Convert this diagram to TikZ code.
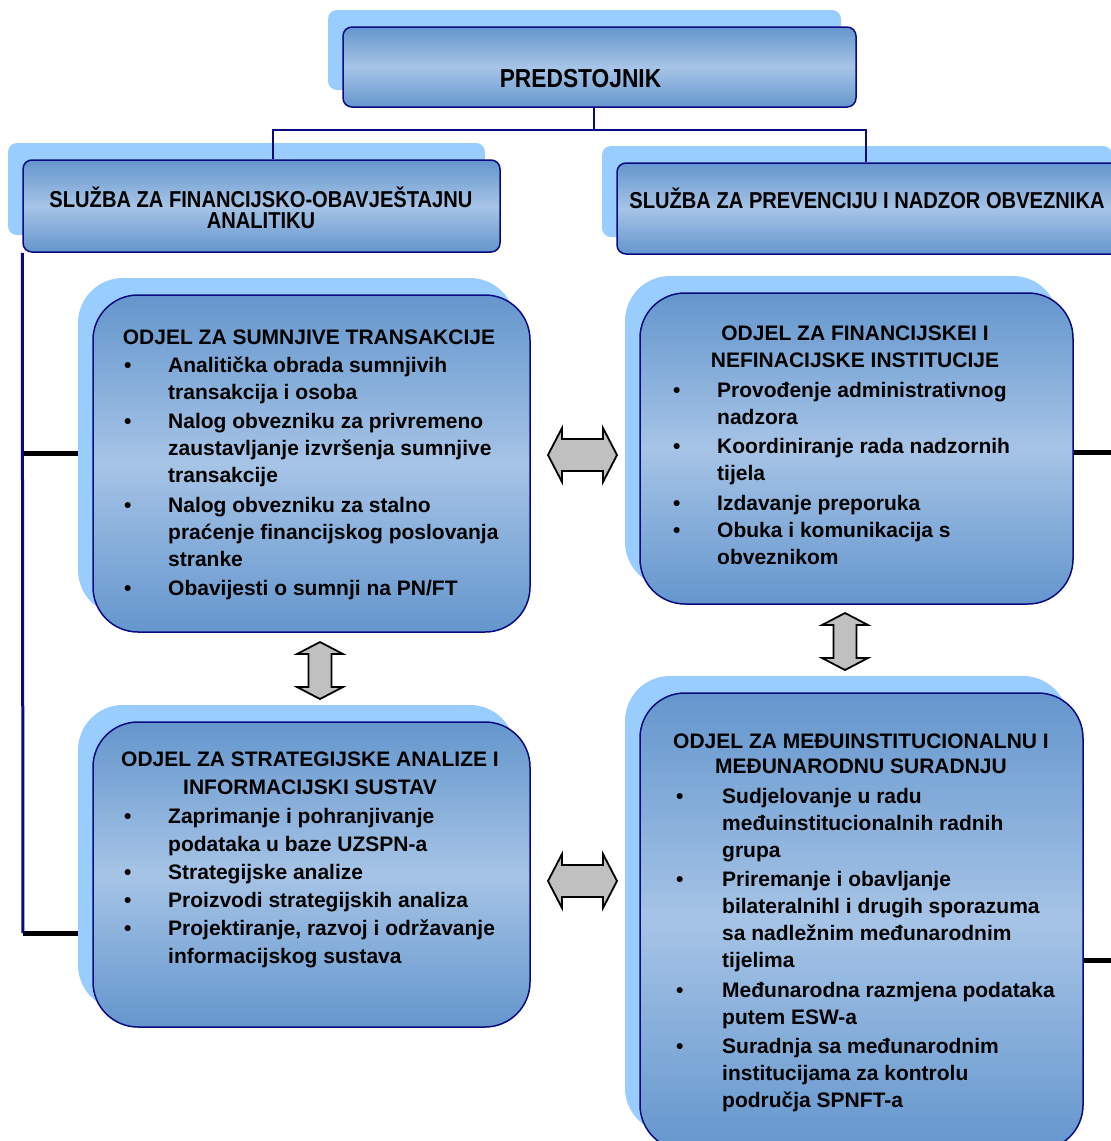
\documentclass[tikz,border=0pt]{standalone}
\usepackage{fontspec}
\setmainfont{Liberation Sans}
\newfontfamily\cond{Liberation Sans}[FakeStretch=0.875]
\usetikzlibrary{shadows}
\definecolor{navy}{RGB}{10,10,130}
\definecolor{boxdark}{RGB}{100,150,205}
\definecolor{boxlight}{RGB}{166,196,230}
\definecolor{shadowc}{RGB}{153,204,255}
\definecolor{arrowgray}{RGB}{192,192,192}
\pgfdeclarelayer{bg}
\pgfdeclarelayer{paper}
\pgfsetlayers{paper,bg,main}
\newcommand\bul[1]{\makebox[#1][l]{\textbullet}}
\tikzset{
  box/.style={draw=navy, line width=1.5pt, top color=boxdark, bottom color=boxdark,
    middle color=boxlight, inner sep=0pt,
    drop shadow={shadow xshift=-15pt, shadow yshift=17pt, fill=shadowc, opacity=1}},
  smallbox/.style={box, rounded corners=9pt},
  bigbox/.style={box, rounded corners=45pt},
  txt/.style={inner sep=0pt, font=\bfseries\fontsize{21}{27}\selectfont},
  svc/.style={inner sep=0pt, font=\cond\bfseries\fontsize{23}{23}\selectfont},
  orgline/.style={draw=navy, line width=2.5pt},
  stub/.style={draw=black, line width=5pt},
  dbl/.style={fill=arrowgray, draw=black, line width=1.8pt, line join=miter}
}
\begin{document}
\begin{tikzpicture}[x=1pt,y=-1pt]
\begin{pgfonlayer}{paper}
\fill[white] (0,0) rectangle (1111,1141);
\end{pgfonlayer}
\useasboundingbox (0,0) rectangle (1111,1141);

% boxes
\node[smallbox, minimum width=513pt, minimum height=80pt] (top) at (599.5,67) {};
\node[smallbox, minimum width=477pt, minimum height=92pt] (sl) at (261.5,206) {};
\node[smallbox, minimum width=510pt, minimum height=91pt] (sr) at (872,208.5) {};
\node[bigbox, minimum width=437pt, minimum height=337pt] (b1) at (311.5,463.5) {};
\node[bigbox, minimum width=433pt, minimum height=311pt] (b2) at (856.5,448.5) {};
\node[bigbox, minimum width=437pt, minimum height=305pt] (b3) at (311.5,874.5) {};
\node[bigbox, minimum width=443pt, minimum height=457pt] (b4) at (861.5,921.5) {};

% connectors
\coordinate (jt) at (594,130);
\coordinate (jl) at (273,130);
\coordinate (jr) at (866,130);
\coordinate (l1) at (23,453);
\coordinate (l2) at (23,933);
\coordinate (r1) at (1116,452);
\coordinate (r2) at (1116,960);
\draw[orgline] (jt|-top.south) -- (jt);
\draw[orgline] (jl|-sl.north) |- (jr) -- (jr|-sr.north);
\draw[orgline, line width=3pt] (sl.south west) -- (l2);
\begin{pgfonlayer}{bg}
\draw[stub] (l1) -- (b1.west|-l1);
\draw[stub] (l2) -- (b3.west|-l2);
\draw[stub] (b2.east|-r1) -- (r1);
\draw[stub] (b4.east|-r2) -- (r2);
\end{pgfonlayer}

% double arrows
\draw[dbl, shift={(582.5,455)}] (-34.5,0) -- (-20.5,-27) -- (-20.5,-16) -- (20.5,-16) -- (20.5,-27) -- (34.5,0) -- (20.5,27) -- (20.5,16) -- (-20.5,16) -- (-20.5,27) -- cycle;
\draw[dbl, shift={(582.5,881)}] (-34.5,0) -- (-20.5,-27) -- (-20.5,-16) -- (20.5,-16) -- (20.5,-27) -- (34.5,0) -- (20.5,27) -- (20.5,16) -- (-20.5,16) -- (-20.5,27) -- cycle;
\draw[dbl, shift={(320,670.5)}] (0,-28.5) -- (23,-16.5) -- (11.5,-16.5) -- (11.5,16.5) -- (23,16.5) -- (0,28.5) -- (-23,16.5) -- (-11.5,16.5) -- (-11.5,-16.5) -- (-23,-16.5) -- cycle;
\draw[dbl, shift={(845,641.5)}] (0,-28.5) -- (23,-16.5) -- (11.5,-16.5) -- (11.5,16.5) -- (23,16.5) -- (0,28.5) -- (-23,16.5) -- (-11.5,16.5) -- (-11.5,-16.5) -- (-23,-16.5) -- cycle;

% texts
\node[inner sep=0pt, font=\cond\bfseries\fontsize{26}{26}\selectfont, anchor=base] (ttop) at (580.5,87) {PREDSTOJNIK};
\node[svc, anchor=base] (tsl1) at (261,207) {SLUŽBA ZA FINANCIJSKO-OBAVJEŠTAJNU};
\node[svc, anchor=base] (tsl2) at (261,228) {ANALITIKU};
\node[svc, anchor=base] (tsr) at (867,208) {SLUŽBA ZA PREVENCIJU I NADZOR OBVEZNIKA};

\node[txt, anchor=base] (h1) at (309,344) {ODJEL ZA SUMNJIVE TRANSAKCIJE};
\node[txt, anchor=base west] (t1) at (124,372) {\begin{tabular}[t]{@{}l@{}l@{}}
\bul{44pt} & Analitička obrada sumnjivih\\
 & transakcija i osoba\\[2.5pt]
\bul{44pt} & Nalog obvezniku za privremeno\\
 & zaustavljanje izvršenja sumnjive\\
 & transakcije\\[2.5pt]
\bul{44pt} & Nalog obvezniku za stalno\\
 & praćenje financijskog poslovanja\\
 & stranke\\[2.5pt]
\bul{44pt} & Obavijesti o sumnji na PN/FT
\end{tabular}};

\node[txt, anchor=base] (h2) at (855,340) {\begin{tabular}[t]{@{}c@{}}
ODJEL ZA FINANCIJSKEI I\\
NEFINACIJSKE INSTITUCIJE
\end{tabular}};
\node[txt, anchor=base west] (t2) at (673,397) {\begin{tabular}[t]{@{}l@{}l@{}}
\bul{44pt} & Provođenje administrativnog\\
 & nadzora\\[2.5pt]
\bul{44pt} & Koordiniranje rada nadzornih\\
 & tijela\\[2.5pt]
\bul{44pt} & Izdavanje preporuka\\
\bul{44pt} & Obuka i komunikacija s\\
 & obveznikom
\end{tabular}};

\node[txt, anchor=base, font=\bfseries\fontsize{21}{28}\selectfont] (h3) at (310,766) {\begin{tabular}[t]{@{}c@{}}
ODJEL ZA STRATEGIJSKE ANALIZE I\\
INFORMACIJSKI SUSTAV
\end{tabular}};
\node[txt, anchor=base west, font=\bfseries\fontsize{21}{28}\selectfont] (t3) at (124,823) {\begin{tabular}[t]{@{}l@{}l@{}}
\bul{44pt} & Zaprimanje i pohranjivanje\\
 & podataka u baze UZSPN-a\\
\bul{44pt} & Strategijske analize\\
\bul{44pt} & Proizvodi strategijskih analiza\\
\bul{44pt} & Projektiranje, razvoj i održavanje\\
 & informacijskog sustava
\end{tabular}};

\node[txt, anchor=base, font=\bfseries\fontsize{21}{25}\selectfont] (h4) at (861,748) {\begin{tabular}[t]{@{}c@{}}
ODJEL ZA MEĐUINSTITUCIONALNU I\\
MEĐUNARODNU SURADNJU
\end{tabular}};
\node[txt, anchor=base west] (t4) at (676,803) {\begin{tabular}[t]{@{}l@{}l@{}}
\bul{46pt} & Sudjelovanje u radu\\
 & međuinstitucionalnih radnih\\
 & grupa\\[2.5pt]
\bul{46pt} & Priremanje i obavljanje\\
 & bilateralnihl i drugih sporazuma\\
 & sa nadležnim međunarodnim\\
 & tijelima\\[2.5pt]
\bul{46pt} & Međunarodna razmjena podataka\\
 & putem ESW-a\\[2.5pt]
\bul{46pt} & Suradnja sa međunarodnim\\
 & institucijama za kontrolu\\
 & područja SPNFT-a
\end{tabular}};
\end{tikzpicture}
\end{document}
